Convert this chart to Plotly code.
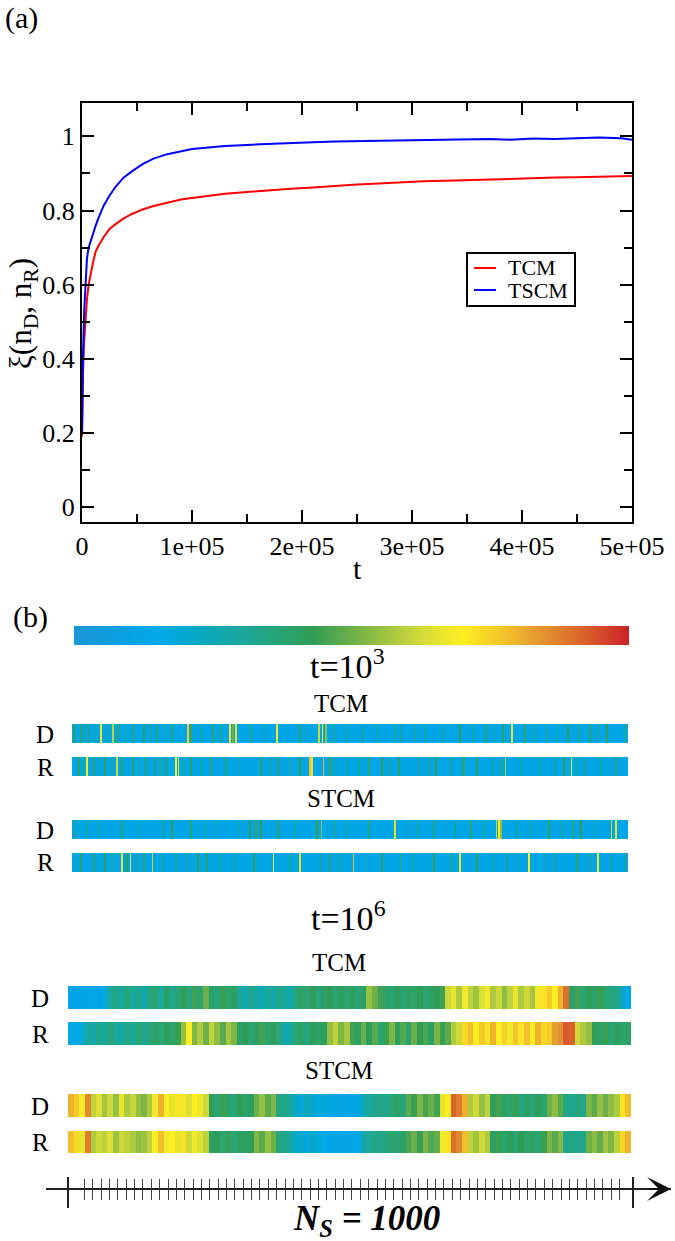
import plotly.graph_objects as go

W, H = 675, 1241
SERIF = "Liberation Serif, Times New Roman, serif"

# ---------------- panel (a) data ----------------
t_vals = [0, 500, 1000, 2000, 3000, 4500, 6000, 8000, 10000, 12500, 15000, 20000, 25000,
          30000, 37500, 45000, 55000, 65000, 77500, 90000, 100000, 115000, 130000, 150000,
          170000, 190000, 210000, 230000, 250000, 270000, 290000, 310000, 330000, 350000,
          370000, 390000, 410000, 430000, 450000, 470000, 490000, 500000]
tcm_xi = [0.19, 0.30, 0.37, 0.45, 0.50, 0.56, 0.60, 0.635, 0.66, 0.69, 0.705, 0.73, 0.75,
          0.762, 0.778, 0.79, 0.803, 0.812, 0.822, 0.83, 0.834, 0.84, 0.845, 0.85,
          0.855, 0.859, 0.862, 0.867, 0.870, 0.873, 0.877, 0.879, 0.880, 0.882,
          0.885, 0.886, 0.888, 0.889, 0.890, 0.891, 0.892, 0.893]
tscm_xi = [0.20, 0.33, 0.42, 0.53, 0.59, 0.67, 0.70, 0.72, 0.74, 0.76, 0.78, 0.815, 0.84,
           0.862, 0.888, 0.905, 0.925, 0.94, 0.952, 0.96, 0.966, 0.970, 0.974, 0.977,
           0.980, 0.983, 0.984, 0.986, 0.987, 0.989, 0.990, 0.991, 0.990, 0.992,
           0.993, 0.991, 0.994, 0.993, 0.994, 0.997, 0.995, 0.991]
series_names = ["TCM", "TSCM"]
series_colors = ["#ff0000", "#0000ff"]

x_tickvals = [0, 1e5, 2e5, 3e5, 4e5, 5e5]
x_ticktext = ["0", "1e+05", "2e+05", "3e+05", "4e+05", "5e+05"]
y_tickvals = [0, 0.2, 0.4, 0.6, 0.8, 1.0]
y_ticktext = ["0", "0.2", "0.4", "0.6", "0.8", "1"]

# ---------------- panel (b) data ----------------
n_sites = 1000
t3_baseline = 0.13
stripe_width = 3

t3_tcm_d_idx = [2, 15, 30, 51, 72, 81, 108, 128, 151, 178, 207, 212, 252, 283, 288, 293, 367, 408, 443, 449,
                455, 494, 521, 548, 591, 634, 665, 696, 743, 774, 790, 813, 852, 891, 930, 961, 994,
                22, 41, 63, 95, 140, 165, 230, 266, 320, 341, 420, 470, 580, 615, 720, 760, 830, 870, 910, 945]
t3_tcm_d_val = [0.40, 0.36, 0.42, 0.68, 0.60, 0.38, 0.36, 0.40, 0.35, 0.38, 0.76, 0.45, 0.38, 0.72, 0.50, 0.66, 0.68, 0.38, 0.62, 0.70,
                0.55, 0.38, 0.40, 0.36, 0.40, 0.38, 0.36, 0.42, 0.38, 0.40, 0.66, 0.38, 0.36, 0.40, 0.38, 0.42, 0.38,
                0.28, 0.30, 0.27, 0.30, 0.28, 0.30, 0.27, 0.29, 0.30, 0.28, 0.27, 0.30, 0.28, 0.29, 0.27, 0.30, 0.28, 0.29, 0.30, 0.28]

t3_tcm_r_idx = [11, 26, 38, 58, 79, 89, 108, 132, 147, 167, 186, 190, 213, 248, 276, 338, 369, 408, 426, 430,
                451, 463, 494, 533, 556, 587, 622, 653, 681, 704, 727, 755, 778, 805, 868, 883, 897, 922, 977,
                20, 48, 70, 120, 157, 200, 230, 300, 355, 390, 470, 515, 570, 640, 700, 770, 840, 905, 950]
t3_tcm_r_val = [0.40, 0.68, 0.38, 0.42, 0.62, 0.38, 0.40, 0.36, 0.42, 0.38, 0.70, 0.66, 0.40, 0.38, 0.36, 0.40, 0.38, 0.42, 0.78, 0.72,
                0.80, 0.45, 0.40, 0.38, 0.42, 0.40, 0.38, 0.42, 0.40, 0.38, 0.42, 0.40, 0.58, 0.38, 0.40, 0.42, 0.68, 0.40, 0.38,
                0.28, 0.30, 0.27, 0.29, 0.30, 0.28, 0.27, 0.30, 0.28, 0.29, 0.27, 0.30, 0.28, 0.29, 0.27, 0.30, 0.28, 0.29, 0.30]

t3_stcm_d_idx = [3, 46, 89, 163, 178, 213, 237, 319, 330, 338, 369, 439, 447, 494, 533, 579, 618, 650, 688, 716,
                 762, 766, 770, 798, 825, 856, 899, 914, 969, 977,
                 25, 120, 260, 300, 400, 470, 600, 740, 880, 940]
t3_stcm_d_val = [0.36, 0.38, 0.36, 0.40, 0.42, 0.38, 0.36, 0.40, 0.45, 0.42, 0.38, 0.44, 0.55, 0.38, 0.36, 0.66, 0.38, 0.36, 0.40, 0.38,
                 0.62, 0.70, 0.55, 0.40, 0.38, 0.40, 0.38, 0.42, 0.62, 0.66,
                 0.28, 0.30, 0.27, 0.29, 0.28, 0.30, 0.27, 0.29, 0.28, 0.30]

t3_stcm_r_idx = [15, 38, 58, 89, 97, 104, 128, 143, 163, 206, 225, 241, 291, 326, 361, 408, 447, 463, 505, 556,
                 611, 650, 696, 727, 755, 782, 821, 868, 907, 945, 969, 992,
                 5, 70, 115, 185, 265, 390, 480, 530, 590, 680, 800, 850, 930]
t3_stcm_r_val = [0.40, 0.38, 0.42, 0.66, 0.40, 0.64, 0.38, 0.62, 0.40, 0.38, 0.42, 0.40, 0.38, 0.42, 0.68, 0.66, 0.40, 0.38, 0.80, 0.40,
                 0.38, 0.42, 0.68, 0.40, 0.38, 0.42, 0.70, 0.40, 0.38, 0.68, 0.40, 0.42,
                 0.28, 0.30, 0.27, 0.29, 0.28, 0.30, 0.27, 0.29, 0.28, 0.30, 0.27, 0.29, 0.28]

# t = 10^6 : each value is the mean over a block of 10 sites
t6_tcm_d = [0.12, 0.12, 0.13, 0.12, 0.14, 0.13, 0.15,
            0.30, 0.34, 0.28, 0.36, 0.30, 0.33, 0.27, 0.35,
            0.38, 0.30, 0.40, 0.33, 0.37,
            0.42, 0.36, 0.45, 0.38, 0.50, 0.40, 0.36, 0.44, 0.38, 0.41,
            0.30, 0.26, 0.32, 0.28, 0.25, 0.30, 0.27, 0.33, 0.29, 0.26,
            0.36, 0.40, 0.38, 0.42, 0.37, 0.40, 0.43, 0.38, 0.41, 0.39, 0.42, 0.37, 0.40,
            0.55, 0.50, 0.45,
            0.40, 0.38, 0.42, 0.37, 0.41, 0.39, 0.43, 0.38, 0.40, 0.42, 0.45,
            0.62, 0.66, 0.58, 0.68, 0.60, 0.56, 0.64, 0.68, 0.58, 0.62, 0.54, 0.60, 0.66, 0.58, 0.62, 0.57,
            0.68, 0.72, 0.76, 0.70, 0.80,
            0.90,
            0.40, 0.45, 0.38, 0.42, 0.40, 0.44, 0.38, 0.36, 0.33,
            0.22, 0.14]
t6_tcm_r = [0.12, 0.14, 0.18,
            0.30, 0.27, 0.33, 0.29, 0.36, 0.31, 0.28, 0.34, 0.30, 0.38, 0.32, 0.36,
            0.40, 0.38, 0.42, 0.39, 0.44,
            0.55, 0.70, 0.52, 0.58, 0.50, 0.60, 0.54, 0.48, 0.57, 0.52,
            0.40, 0.43, 0.38, 0.41, 0.45, 0.39, 0.42, 0.37,
            0.26, 0.28,
            0.38, 0.40, 0.36, 0.42, 0.39, 0.41,
            0.55, 0.60, 0.52, 0.57,
            0.45, 0.40, 0.50, 0.42, 0.48, 0.38, 0.44, 0.52, 0.41, 0.47, 0.39, 0.50, 0.43, 0.46, 0.40, 0.52, 0.44, 0.48,
            0.58, 0.62,
            0.74, 0.78, 0.70, 0.76, 0.72, 0.80, 0.70, 0.75, 0.68, 0.77,
            0.72, 0.78, 0.70, 0.80, 0.74, 0.76,
            0.83, 0.85,
            0.93, 0.92,
            0.62, 0.58, 0.55,
            0.42, 0.40, 0.44, 0.38, 0.41, 0.39, 0.40]
t6_stcm_d = [0.80, 0.76, 0.68, 0.86,
             0.60, 0.64, 0.57, 0.62, 0.55, 0.66, 0.58, 0.61,
             0.55, 0.52, 0.58, 0.68, 0.80,
             0.70, 0.66, 0.72, 0.68, 0.64, 0.70, 0.67, 0.62,
             0.42, 0.38, 0.44, 0.40, 0.36, 0.43, 0.39, 0.41,
             0.50, 0.55, 0.48, 0.52,
             0.35, 0.33, 0.30,
             0.22, 0.18, 0.24, 0.20, 0.16, 0.19,
             0.12, 0.13, 0.11, 0.12, 0.14, 0.12,
             0.26, 0.30, 0.33, 0.35, 0.32,
             0.38, 0.40, 0.37,
             0.48, 0.44, 0.52, 0.46, 0.50, 0.45,
             0.66, 0.70, 0.92, 0.88, 0.80,
             0.58, 0.62, 0.55, 0.60,
             0.42, 0.45, 0.40, 0.38, 0.44, 0.36, 0.40, 0.37, 0.42, 0.38,
             0.50, 0.54, 0.48,
             0.34, 0.32, 0.36, 0.33,
             0.52, 0.48, 0.55, 0.50, 0.54, 0.58,
             0.72, 0.78]
t6_stcm_r = [0.78, 0.74, 0.66, 0.88,
             0.58, 0.62, 0.60, 0.64, 0.56, 0.62, 0.60, 0.58,
             0.54, 0.56, 0.60, 0.70, 0.78,
             0.68, 0.70, 0.66, 0.72, 0.62, 0.68, 0.64, 0.60,
             0.40, 0.42, 0.38, 0.44, 0.37, 0.41, 0.40, 0.43,
             0.52, 0.48, 0.55, 0.50,
             0.36, 0.32, 0.30,
             0.20, 0.22, 0.17, 0.21, 0.18, 0.16,
             0.13, 0.11, 0.12, 0.13, 0.12, 0.14,
             0.28, 0.31, 0.34, 0.33, 0.36,
             0.39, 0.37, 0.40,
             0.46, 0.50, 0.44, 0.52, 0.47, 0.49,
             0.68, 0.72, 0.90, 0.86, 0.78,
             0.60, 0.56, 0.62, 0.58,
             0.40, 0.44, 0.38, 0.42, 0.37, 0.43, 0.39, 0.41, 0.38, 0.44,
             0.52, 0.48, 0.53,
             0.33, 0.35, 0.32, 0.34,
             0.50, 0.54, 0.49, 0.56, 0.52, 0.60,
             0.74, 0.80]

colorscale = [
    [0.00, "#1b96d6"], [0.10, "#06a2e0"], [0.15, "#00a9ea"], [0.22, "#06a8c4"],
    [0.30, "#1aa79c"], [0.38, "#2aa470"], [0.43, "#2f9d55"], [0.50, "#6cb04a"],
    [0.57, "#a6c640"], [0.63, "#d6dd38"], [0.70, "#fdee21"], [0.78, "#f2bf2c"],
    [0.85, "#e3902f"], [0.92, "#d9622a"], [1.00, "#cc2127"],
]

# site-axis minor ticks (every ~15 sites)
site_minor_ticks = [29 + 14.8 * k for k in range(65)]

# ---------------- layout geometry (pixels) ----------------
def fx(px):
    return px / W

def fy(py):
    return 1 - py / H

t3_strips = [("tcm_d", 724, 743), ("tcm_r", 757, 776), ("stcm_d", 820, 839), ("stcm_r", 853, 872)]
t6_strips = [("tcm_d", 986, 1009), ("tcm_r", 1022, 1045), ("stcm_d", 1094, 1117), ("stcm_r", 1131, 1153)]


def sparse_strip(idx, val):
    z = [t3_baseline] * n_sites
    for i, v in zip(idx, val):
        for k in range(i, min(i + stripe_width, n_sites)):
            z[k] = v
    return z


t3_data = {
    "tcm_d": sparse_strip(t3_tcm_d_idx, t3_tcm_d_val),
    "tcm_r": sparse_strip(t3_tcm_r_idx, t3_tcm_r_val),
    "stcm_d": sparse_strip(t3_stcm_d_idx, t3_stcm_d_val),
    "stcm_r": sparse_strip(t3_stcm_r_idx, t3_stcm_r_val),
}
t6_data = {"tcm_d": t6_tcm_d, "tcm_r": t6_tcm_r, "stcm_d": t6_stcm_d, "stcm_r": t6_stcm_r}

fig = go.Figure()

for name, ys, col in zip(series_names, [tcm_xi, tscm_xi], series_colors):
    fig.add_trace(go.Scatter(x=t_vals, y=ys, mode="lines", name=name, showlegend=False,
                             line=dict(color=col, width=2), xaxis="x", yaxis="y"))

layout_axes = {}
ax_num = 2
for group, xname, xdom in ((t3_strips, "x2", (72, 628)), (t6_strips, "x3", (68, 631))):
    data = t3_data if xname == "x2" else t6_data
    layout_axes["xaxis" + xname[1:]] = dict(domain=[fx(xdom[0]), fx(xdom[1])], range=[0, n_sites],
                                            visible=False, anchor="y%d" % ax_num, fixedrange=True)
    for key, top, bot in group:
        z = data[key]
        n = len(z)
        xs = [(i + 0.5) * n_sites / n for i in range(n)]
        fig.add_trace(go.Heatmap(z=[z], x=xs, y=[0], coloraxis="coloraxis",
                                 xaxis=xname, yaxis="y%d" % ax_num, hoverinfo="skip",
                                 showscale=False))
        layout_axes["yaxis%d" % ax_num] = dict(domain=[fy(bot), fy(top)], range=[-0.5, 0.5],
                                               visible=False, anchor=xname)
        ax_num += 1

# bottom N_S axis: 0 at px 68, 1000 at px 633; the line runs from px 46 to the arrow tip at px 671
ppu = (633 - 68) / n_sites
site_range = [(46 - 68) / ppu, (671 - 68) / ppu]
axis_y = fy(1189)
bottom_common = dict(domain=[fx(46), fx(671)], range=site_range, anchor="free", position=axis_y,
                     showgrid=False, zeroline=False, showticklabels=False,
                     tickmode="array", tickvals=[0, n_sites], tickwidth=2, tickcolor="#222222")
layout_axes["xaxis4"] = dict(bottom_common, ticks="outside", ticklen=18,
                             showline=True, linewidth=2, linecolor="#222222",
                             minor=dict(tickmode="array", tickvals=site_minor_ticks, ticks="outside",
                                        ticklen=10, tickwidth=1.2, tickcolor="#444444"))
layout_axes["xaxis5"] = dict(bottom_common, ticks="inside", ticklen=12, overlaying="x4", showline=False,
                             minor=dict(tickmode="array", tickvals=site_minor_ticks, ticks="inside",
                                        ticklen=10, tickwidth=1.2, tickcolor="#444444"))
fig.add_trace(go.Scatter(x=[0, n_sites], y=[None, None], xaxis="x4", yaxis="y10",
                         showlegend=False, hoverinfo="skip"))
fig.add_trace(go.Scatter(x=[0, n_sites], y=[None, None], xaxis="x5", yaxis="y10",
                         showlegend=False, hoverinfo="skip"))
layout_axes["yaxis10"] = dict(domain=[fy(1200), fy(1178)], visible=False, anchor="x4", range=[0, 1])

axis_font = dict(family=SERIF, size=26, color="black")
fig.update_layout(
    width=W, height=H, autosize=False,
    margin=dict(l=0, r=0, t=0, b=0, pad=0, autoexpand=False),
    paper_bgcolor="white", plot_bgcolor="white",
    showlegend=False,
    xaxis=dict(domain=[fx(82), fx(632)], range=[0, 5e5], anchor="y",
               showline=True, linewidth=2, linecolor="black", mirror="ticks",
               ticks="inside", ticklen=12, tickwidth=1.5, tickcolor="black",
               tickmode="array", tickvals=x_tickvals, ticktext=x_ticktext,
               minor=dict(tickmode="linear", tick0=0, dtick=5e4, ticks="inside", ticklen=8,
                          tickwidth=1.5, tickcolor="black"),
               showgrid=False, zeroline=False, tickfont=axis_font),
    yaxis=dict(domain=[fy(522), fy(103)], range=[-0.04, 1.09], anchor="x",
               showline=True, linewidth=2, linecolor="black", mirror="ticks",
               ticks="inside", ticklen=12, tickwidth=1.5, tickcolor="black",
               tickmode="array", tickvals=y_tickvals, ticktext=y_ticktext,
               minor=dict(tickmode="linear", tick0=0, dtick=0.1, ticks="inside", ticklen=8,
                          tickwidth=1.5, tickcolor="black"),
               showgrid=False, zeroline=False, tickfont=axis_font),
    coloraxis=dict(cmin=0, cmax=1, colorscale=colorscale,
                   colorbar=dict(orientation="h", x=fx((73.6 + 628.6) / 2), xanchor="center",
                                 y=fy(626), yanchor="top", len=555, lenmode="pixels",
                                 thickness=19, thicknessmode="pixels", xpad=0, ypad=0,
                                 outlinewidth=0, showticklabels=False, ticks="")),
    **layout_axes,
)


def label(text, x, y, size, angle=0, anchor="center"):
    fig.add_annotation(text=text, x=fx(x), y=fy(y), xref="paper", yref="paper",
                       showarrow=False, textangle=angle, xanchor=anchor, yanchor="middle",
                       font=dict(family=SERIF, size=size, color="black"))


# legend of panel (a): framed box with line samples
legend_box = (467, 253, 575, 306)
legend_rows = [268, 290]
fig.add_shape(type="rect", xref="paper", yref="paper",
              x0=fx(legend_box[0]), x1=fx(legend_box[2]), y0=fy(legend_box[3]), y1=fy(legend_box[1]),
              line=dict(color="black", width=2), fillcolor="white", layer="above")
for name, col, row in zip(series_names, series_colors, legend_rows):
    fig.add_shape(type="line", xref="paper", yref="paper", x0=fx(474), x1=fx(496),
                  y0=fy(row), y1=fy(row), line=dict(color=col, width=2), layer="above")
    label(name, 506, row, 22, anchor="left")

label("(a)", 22, 18, 30)
label("ξ(n<sub>D</sub>, n<sub>R</sub>)", 23, 314, 31, angle=-90)
label("t", 357, 568, 30)
label("(b)", 30, 617, 30)
label("t=10<sup>3</sup>", 347, 664, 34)
label("TCM", 341, 703, 25)
label("D", 45, 734, 25)
label("R", 45, 767, 25)
label("STCM", 341, 798, 25)
label("D", 45, 830, 25)
label("R", 45, 862, 25)
label("t=10<sup>6</sup>", 348, 916, 34)
label("TCM", 339, 962, 25)
label("D", 40, 998, 25)
label("R", 40, 1034, 25)
label("STCM", 339, 1070, 25)
label("D", 40, 1106, 25)
label("R", 40, 1142, 25)
label("<b><i>N<sub>S</sub> = 1000</i></b>", 366, 1220, 35)

# arrow head at the end of the site axis
fig.add_annotation(x=site_range[1], y=0.5, xref="x4", yref="y10",
                   ax=site_range[1] - 40, ay=0.5, axref="x4", ayref="y10",
                   text="", showarrow=True, arrowhead=3, arrowsize=2.0,
                   arrowwidth=2, arrowcolor="#111111", standoff=0, startstandoff=0)

fig.write_html("out.html", config={"displayModeBar": False},
               post_script="document.body.style.margin='0px';document.body.style.overflow='hidden';")
